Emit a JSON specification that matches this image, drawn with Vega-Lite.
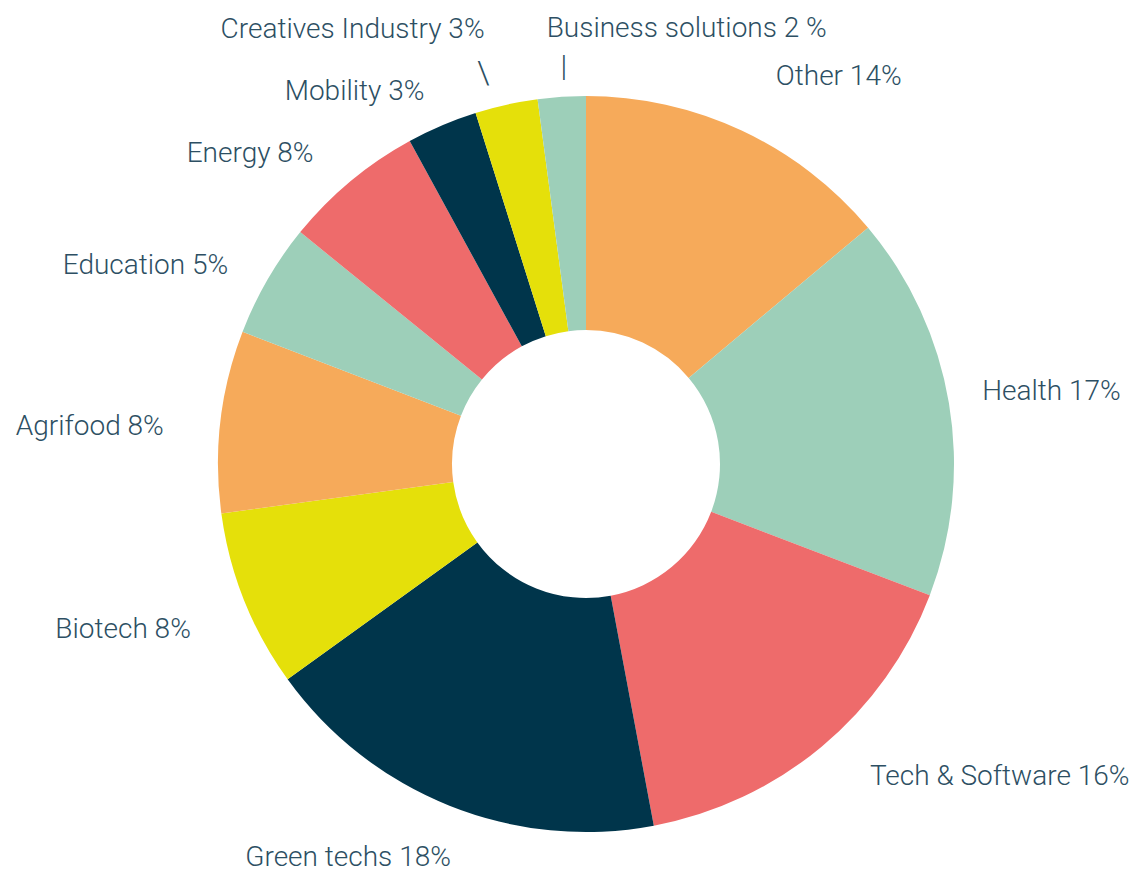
{
  "$schema": "https://vega.github.io/schema/vega-lite/v6.json",
  "width": 1102,
  "height": 816,
  "autosize": "none",
  "padding": {"left": 35, "top": 56, "right": 0, "bottom": 0},
  "background": "white",
  "view": {"stroke": null},
  "config": {"text": {"font": "Roboto", "fontWeight": 300, "fontSize": 28, "color": "#2d4f63", "baseline": "middle"}},
  "data": {
    "values": [
      {"category": "Other", "label": "Other 14%", "value": 13.9, "rank": 1},
      {"category": "Health", "label": "Health 17%", "value": 16.9, "rank": 2},
      {"category": "Tech & Software", "label": "Tech & Software 16%", "value": 16.25, "rank": 3},
      {"category": "Green techs", "label": "Green techs 18%", "value": 18.0, "rank": 4},
      {"category": "Biotech", "label": "Biotech 8%", "value": 7.8, "rank": 5},
      {"category": "Agrifood", "label": "Agrifood 8%", "value": 8.0, "rank": 6},
      {"category": "Education", "label": "Education 5%", "value": 5.0, "rank": 7},
      {"category": "Energy", "label": "Energy 8%", "value": 6.2, "rank": 8},
      {"category": "Mobility", "label": "Mobility 3%", "value": 3.1, "rank": 9},
      {"category": "Creatives Industry", "label": "Creatives Industry 3%", "value": 2.75, "rank": 10},
      {"category": "Business solutions", "label": "Business solutions 2 %", "value": 2.1, "rank": 11}
    ]
  },
  "encoding": {
    "theta": {"field": "value", "type": "quantitative", "stack": true},
    "order": {"field": "rank", "type": "quantitative"}
  },
  "layer": [
    {
      "mark": {"type": "arc", "innerRadius": 134, "outerRadius": 368, "stroke": null},
      "encoding": {
        "color": {
          "field": "category",
          "type": "nominal",
          "legend": null,
          "scale": {
            "domain": ["Other", "Health", "Tech & Software", "Green techs", "Biotech", "Agrifood", "Education", "Energy", "Mobility", "Creatives Industry", "Business solutions"],
            "range": ["#F6AA5A", "#9DCFB9", "#EE6B6B", "#00354B", "#E5E00A", "#F6AA5A", "#9DCFB9", "#EE6B6B", "#00354B", "#E5E00A", "#9DCFB9"]
          }
        }
      }
    },
    {
      "mark": {"type": "text", "radius": 418, "dx": 13, "dy": -8, "align": "left"},
      "encoding": {"text": {"condition": {"test": "datum.category == 'Other'", "field": "label"}, "value": ""}}
    },
    {
      "mark": {"type": "text", "radius": 418, "dx": -16, "dy": -3, "align": "left"},
      "encoding": {"text": {"condition": {"test": "datum.category == 'Health'", "field": "label"}, "value": ""}}
    },
    {
      "mark": {"type": "text", "radius": 418, "dx": 16, "dy": -8, "align": "left"},
      "encoding": {"text": {"condition": {"test": "datum.category == 'Tech & Software'", "field": "label"}, "value": ""}}
    },
    {
      "mark": {"type": "text", "radius": 418, "dx": 20, "dy": 6, "align": "right"},
      "encoding": {"text": {"condition": {"test": "datum.category == 'Green techs'", "field": "label"}, "value": ""}}
    },
    {
      "mark": {"type": "text", "radius": 418, "dx": -7, "dy": 11, "align": "right"},
      "encoding": {"text": {"condition": {"test": "datum.category == 'Biotech' || datum.category == 'Agrifood'", "field": "label"}, "value": ""}}
    },
    {
      "mark": {"type": "text", "radius": 418, "dx": 4, "dy": 11, "align": "right"},
      "encoding": {"text": {"condition": {"test": "datum.category == 'Education'", "field": "label"}, "value": ""}}
    },
    {
      "mark": {"type": "text", "radius": 418, "dx": -5, "dy": 11, "align": "right"},
      "encoding": {"text": {"condition": {"test": "datum.category == 'Energy'", "field": "label"}, "value": ""}}
    },
    {
      "mark": {"type": "text", "radius": 418, "dx": 2, "dy": 13, "align": "right"},
      "encoding": {"text": {"condition": {"test": "datum.category == 'Mobility'", "field": "label"}, "value": ""}}
    },
    {
      "mark": {"type": "text", "radius": 445, "dx": -5, "dy": 0, "align": "right"},
      "encoding": {"text": {"condition": {"test": "datum.category == 'Creatives Industry'", "field": "label"}, "value": ""}}
    },
    {
      "mark": {"type": "text", "radius": 445, "dx": -10, "dy": 9, "align": "left"},
      "encoding": {"text": {"condition": {"test": "datum.category == 'Business solutions'", "field": "label"}, "value": ""}}
    },
    {
      "mark": {"type": "text", "radius": 400, "dx": -16, "align": "center", "fontSize": 32, "text": "\\"},
      "encoding": {"opacity": {"condition": {"test": "datum.category == 'Creatives Industry'", "value": 1}, "value": 0}}
    },
    {
      "mark": {"type": "text", "radius": 398, "dx": 4, "align": "center", "fontSize": 30, "text": "|"},
      "encoding": {"opacity": {"condition": {"test": "datum.category == 'Business solutions'", "value": 1}, "value": 0}}
    }
  ]
}
